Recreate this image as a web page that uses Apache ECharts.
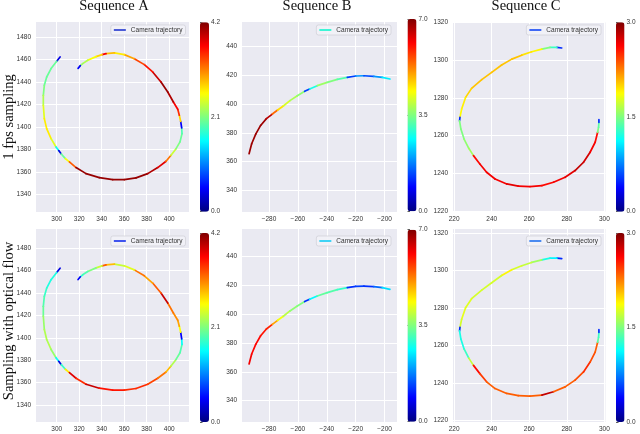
<!DOCTYPE html>
<html>
<head>
<meta charset="utf-8">
<script src="https://cdn.jsdelivr.net/npm/echarts/dist/echarts.min.js"></script>
<style>html,body{margin:0;padding:0;background:#fff}#main{width:640px;height:434px}</style>
</head>
<body>
<div id="main"></div>
<script>
// trajectory of sequence A (points along the path)
const trajAX = [303.0, 300.0, 295.0, 291.1, 289.0, 288.1, 288.1, 289.0, 291.1, 295.0, 299.4, 301.8, 304.1, 307.7, 311.3, 317.2, 326.1, 337.9, 349.8, 360.1, 370.5, 380.9, 389.8, 397.2, 401.6, 406.1, 409.6, 411.4, 411.1, 410.2, 409.0, 407.6, 403.7, 398.7, 392.7, 385.3, 377.9, 369.0, 360.1, 351.3, 343.9, 340.3, 335.0, 327.6, 323.1, 321.0, 319.0];
const trajAY = [1462.2, 1458.4, 1451.9, 1444.4, 1437.0, 1428.1, 1419.3, 1407.4, 1398.5, 1389.6, 1382.2, 1379.0, 1376.0, 1371.9, 1368.9, 1363.9, 1358.5, 1355.0, 1353.2, 1353.2, 1354.7, 1358.5, 1363.9, 1369.5, 1374.8, 1380.7, 1386.7, 1394.1, 1399.1, 1405.0, 1410.4, 1415.7, 1422.2, 1431.1, 1440.0, 1448.9, 1455.4, 1460.7, 1464.3, 1465.8, 1465.2, 1464.3, 1462.5, 1459.3, 1456.3, 1454.5, 1452.1];
// value of each segment (between point i and i+1)
const speedA_fps = [0.4, 2.0, 2.0, 2.0, 2.1, 2.3, 2.5, 2.7, 2.7, 2.5, 1.6, 0.4, 2.0, 2.6, 3.3, 4.1, 4.1, 4.1, 4.1, 4.1, 4.1, 4.0, 3.8, 3.2, 2.4, 2.1, 2.0, 1.9, 0.5, 2.8, 3.5, 3.7, 4.0, 4.1, 3.9, 3.6, 3.4, 3.0, 2.7, 2.9, 3.7, 2.8, 2.6, 2.3, 2.2, 0.5];
const speedA_flow = [0.4, 1.7, 1.7, 1.8, 1.9, 2.0, 2.2, 2.3, 2.3, 2.2, 1.6, 0.4, 1.8, 2.7, 3.8, 3.5, 3.9, 3.6, 3.6, 3.5, 3.5, 3.4, 3.2, 2.9, 2.3, 2.0, 1.9, 1.6, 0.5, 2.6, 3.0, 3.1, 3.2, 3.9, 3.3, 3.0, 3.2, 2.5, 2.4, 2.9, 3.3, 2.4, 2.1, 1.9, 1.8, 0.5];

// sequence B
const trajBX = [-293.8, -292.0, -289.2, -285.8, -281.8, -277.7, -274.0, -270.1, -265.5, -260.4, -255.3, -251.9, -246.6, -239.7, -232.7, -225.8, -220.0, -214.3, -207.4, -201.6, -196.3];
const trajBY = [365.5, 372.4, 379.1, 385.1, 389.8, 393.0, 395.8, 398.6, 402.3, 405.7, 408.8, 410.4, 412.7, 415.0, 417.1, 418.5, 419.4, 419.6, 419.2, 418.5, 417.3];
const speedB_fps = [6.8, 6.8, 6.8, 6.8, 6.6, 5.4, 4.6, 4.1, 3.8, 3.6, 1.3, 2.8, 3.7, 3.5, 3.2, 1.3, 1.9, 1.4, 1.9, 2.5];
const speedB_flow = [6.2, 6.1, 6.1, 6.0, 5.9, 5.0, 4.3, 3.9, 3.6, 3.5, 1.2, 2.6, 3.3, 3.2, 3.0, 1.2, 1.3, 1.2, 1.6, 2.4];

// sequence C
const trajCX = [277.3, 274.7, 271.1, 266.7, 261.3, 256.0, 250.7, 245.3, 240.0, 234.7, 229.3, 226.1, 224.0, 223.1, 222.9, 223.6, 225.3, 227.8, 230.3, 233.7, 237.3, 241.8, 248.0, 254.2, 260.4, 266.7, 272.9, 279.1, 284.4, 288.9, 292.4, 295.1, 296.4, 296.9, 297.1, 297.1];
const trajCY = [1306.4, 1306.7, 1306.7, 1305.8, 1304.4, 1302.6, 1300.5, 1297.4, 1293.5, 1289.6, 1285.0, 1280.2, 1274.0, 1269.6, 1267.8, 1263.4, 1258.1, 1253.2, 1249.3, 1244.9, 1240.5, 1236.9, 1234.3, 1233.1, 1232.9, 1233.4, 1235.2, 1237.8, 1241.4, 1245.8, 1251.1, 1256.4, 1261.7, 1264.3, 1267.0, 1268.4];
const speedC_fps = [0.5, 1.3, 1.5, 1.9, 1.95, 2.05, 2.05, 2.05, 2.05, 2.05, 2.0, 1.92, 1.88, 0.5, 1.5, 1.5, 1.55, 1.6, 2.6, 2.65, 2.65, 2.65, 2.7, 2.65, 2.65, 2.6, 2.65, 2.7, 2.8, 2.75, 2.65, 2.6, 1.5, 1.4, 0.5];
const speedC_flow = [0.5, 1.1, 1.2, 1.6, 1.7, 1.75, 1.9, 1.75, 1.75, 1.75, 1.78, 1.8, 1.75, 0.5, 1.2, 1.2, 1.3, 1.7, 2.6, 2.45, 2.35, 2.35, 2.35, 2.35, 2.35, 2.8, 2.35, 2.35, 2.4, 2.5, 2.4, 2.35, 1.4, 1.3, 0.5];

// tick labels
const ticksAX = [300, 320, 340, 360, 380, 400];
const ticksAY = [1340, 1360, 1380, 1400, 1420, 1440, 1460, 1480];
const ticksBX = [-280, -260, -240, -220, -200];
const ticksBY = [340, 360, 380, 400, 420, 440];
const ticksCX = [220, 240, 260, 280, 300];
const ticksCY = [1220, 1240, 1260, 1280, 1300, 1320];
const colorbarMax = [4.2, 7.0, 3.0];

const columnTitles = ['Sequence A', 'Sequence B', 'Sequence C'];
const rowTitles = ['1 fps sampling', 'Sampling with optical flow'];

const jet = ['#00007f', '#0000ff', '#007fff', '#00ffff', '#7fff7f', '#ffff00', '#ff7f00', '#ff0000', '#7f0000'];

// layout of the 3 columns / 2 rows
const cols = [
  {gx: 36, gw: 153, cbx: 200, cbw: 9, xr: [281.6, 417.6], xt: ticksAX, yt: ticksAY, lr: 454.5, tx: 114},
  {gx: 242, gw: 155, cbx: 407.5, cbw: 9, xr: [-298.7, -191.4], xt: ticksBX, yt: ticksBY, lr: 249, tx: 317},
  {gx: 453, gw: 152.5, cbx: 616, cbw: 8.5, xr: [219.4, 300.6], xt: ticksCX, yt: ticksCY, lr: 39, tx: 526}
];
const rows = [
  {gy: 22, gh: 190, ly: 25, cb: [[22.3, 189.4], [19, 192.3], [22.3, 189.4]],
   yr: [[1324.4, 1493.3], [325.0, 456.9], [1219.4, 1320.2]], ty: 117},
  {gy: 229, gh: 193, ly: 236, cb: [[233, 189], [229.7, 192], [233, 189]],
   yr: [[1324.8, 1497.2], [325.2, 459.2], [1219.0, 1322.3]], ty: 321}
];
const trajs = [[trajAX, trajAY], [trajBX, trajBY], [trajCX, trajCY]];
const speeds = [[speedA_fps, speedB_fps, speedC_fps], [speedA_flow, speedB_flow, speedC_flow]];
const legendColors = [['#4b5bd6', '#3ff5d6', '#3f68f5'], ['#3f53ee', '#3fd3f5', '#4a8af0']];

function segments(xs, ys, vs) {
  const out = [];
  for (let i = 0; i < xs.length - 1; i++) {
    out.push([xs[i], ys[i], xs[i + 1], ys[i + 1], vs[i]]);
  }
  return out;
}

function renderSegment(params, api) {
  const p1 = api.coord([api.value(0), api.value(1)]);
  const p2 = api.coord([api.value(2), api.value(3)]);
  return {
    type: 'line',
    shape: {x1: p1[0], y1: p1[1], x2: p2[0], y2: p2[1]},
    style: {stroke: api.visual('color'), lineWidth: 1.7, lineCap: 'round'}
  };
}

const fmt = v => (v < 0 ? '\u2212' + (-v) : String(v));
const labelStyle = {fontSize: 6.5, color: '#333', fontFamily: 'Liberation Sans'};

const grid = [], xAxis = [], yAxis = [], series = [], visualMap = [], legend = [];
rows.forEach((r, ri) => {
  cols.forEach((c, ci) => {
    const idx = grid.length;
    grid.push({left: c.gx, top: r.gy, width: c.gw, height: r.gh, show: true,
      backgroundColor: '#eaeaf2', borderWidth: 0});
    xAxis.push({type: 'value', gridIndex: idx, min: c.xr[0], max: c.xr[1],
      axisLine: {show: false}, axisTick: {show: false, customValues: c.xt},
      axisLabel: Object.assign({customValues: c.xt, formatter: fmt, margin: 4}, labelStyle),
      splitLine: {show: true, lineStyle: {color: '#ffffff', width: 1}}});
    yAxis.push({type: 'value', gridIndex: idx, min: r.yr[ci][0], max: r.yr[ci][1],
      axisLine: {show: false}, axisTick: {show: false, customValues: c.yt},
      axisLabel: Object.assign({customValues: c.yt, formatter: fmt, margin: 5}, labelStyle),
      splitLine: {show: true, lineStyle: {color: '#ffffff', width: 1}}});
    series.push({type: 'custom', name: 'Camera trajectory', xAxisIndex: idx, yAxisIndex: idx,
      renderItem: renderSegment, encode: {x: [0, 2], y: [1, 3]}, silent: true,
      data: segments(trajs[ci][0], trajs[ci][1], speeds[ri][ci])});
    visualMap.push({type: 'continuous', seriesIndex: idx, dimension: 4, min: 0, max: colorbarMax[ci],
      inRange: {color: jet}, calculable: false, show: true, padding: 0, hoverLink: false,
      left: c.cbx, top: r.cb[ci][0], itemWidth: c.cbw, itemHeight: r.cb[ci][1]});
    legend.push({data: [{name: 'Camera trajectory', itemStyle: {color: legendColors[ri][ci]}}],
      right: c.lr, top: r.ly, icon: 'rect', itemWidth: 12, itemHeight: 2, selectedMode: false,
      textStyle: {fontSize: 6.5, color: '#333', fontFamily: 'Liberation Sans'},
      backgroundColor: 'rgba(242,242,247,0.9)', borderColor: '#cfcfd6', borderWidth: 0.7,
      borderRadius: 2, padding: [1.5, 3, 1.5, 3]});
  });
});
// colorbar axes
rows.forEach((r, ri) => {
  cols.forEach((c, ci) => {
    const idx = grid.length;
    grid.push({left: c.cbx, top: r.cb[ci][0], width: c.cbw, height: r.cb[ci][1], show: false});
    xAxis.push({type: 'value', gridIndex: idx, min: 0, max: 1, show: false});
    yAxis.push({type: 'value', gridIndex: idx, position: 'right', min: 0, max: colorbarMax[ci],
      interval: colorbarMax[ci] / 2,
      axisLine: {show: false}, splitLine: {show: false},
      axisTick: {show: true, length: 2.5, lineStyle: {color: '#333', width: 0.8}},
      axisLabel: Object.assign({margin: 2, formatter: v => v.toFixed(1)}, labelStyle)});
  });
});

const graphic = [];
cols.forEach((c, ci) => {
  graphic.push({type: 'text', x: c.tx, y: 6.5, silent: true,
    style: {text: columnTitles[ci], font: '14.5px "Liberation Serif"', fill: '#111',
      textAlign: 'center', textVerticalAlign: 'middle'}});
});
rows.forEach((r, ri) => {
  graphic.push({type: 'text', x: 9.5, y: r.ty, rotation: Math.PI / 2, silent: true,
    style: {text: rowTitles[ri], font: '14.5px "Liberation Serif"', fill: '#111',
      textAlign: 'center', textVerticalAlign: 'middle'}});
});

const chart = echarts.init(document.getElementById('main'));
chart.setOption({
  animation: false,
  backgroundColor: '#ffffff',
  grid: grid, xAxis: xAxis, yAxis: yAxis,
  visualMap: visualMap, legend: legend,
  series: series, graphic: graphic
});
</script>
</body>
</html>
